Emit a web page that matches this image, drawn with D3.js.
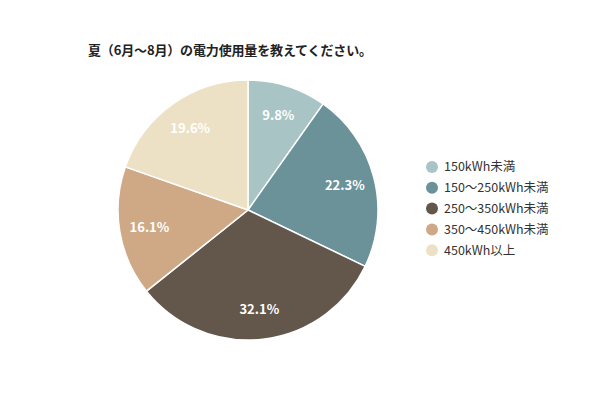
<!DOCTYPE html>
<html>
<head>
<meta charset="utf-8">
<script src="https://cdn.jsdelivr.net/npm/d3@7"></script>
<style>
  body { margin: 0; background: #fff; }
  svg { font-family: "Noto Sans CJK JP", "Noto Sans", sans-serif; }
</style>
</head>
<body>
<svg id="chart" width="600" height="400"></svg>
<script>
// 夏の電力使用量の回答割合
var categories = ["150kWh未満", "150～250kWh未満", "250～350kWh未満", "350～450kWh未満", "450kWh以上"];
var values = [9.8, 22.3, 32.1, 16.1, 19.6];
var colors = ["#a8c4c4", "#6b9299", "#63574c", "#cfa985", "#ede1c5"];
var title = "夏（6月～8月）の電力使用量を教えてください。";

var svg = d3.select("#chart");

svg.append("text")
    .attr("x", 88)
    .attr("y", 55)
    .attr("font-size", 13)
    .attr("font-weight", "bold")
    .attr("fill", "#222")
    .attr("textLength", 284)
    .text(title);

var radius = 130;
var g = svg.append("g").attr("transform", "translate(248,210)");

var pie = d3.pie().sort(null).value(function(d) { return d; });
var arc = d3.arc().innerRadius(0).outerRadius(radius);
var labelArc = d3.arc().innerRadius(100).outerRadius(100);
var color = d3.scaleOrdinal().domain(categories).range(colors);

var slices = pie(values);

g.selectAll("path")
    .data(slices)
    .enter()
    .append("path")
    .attr("d", arc)
    .attr("fill", function(d, i) { return color(categories[i]); })
    .attr("stroke", "#fff")
    .attr("stroke-width", 1.5);

g.selectAll("text.pct")
    .data(slices)
    .enter()
    .append("text")
    .attr("class", "pct")
    .attr("transform", function(d) { return "translate(" + labelArc.centroid(d) + ")"; })
    .attr("text-anchor", "middle")
    .attr("dy", "0.38em")
    .attr("font-size", 13)
    .attr("font-weight", "bold")
    .attr("fill", "#fff")
    .text(function(d) { return d.data.toFixed(1) + "%"; });

// 凡例
var legend = svg.append("g").attr("transform", "translate(432,167)");
var item = legend.selectAll("g")
    .data(categories)
    .enter()
    .append("g")
    .attr("transform", function(d, i) { return "translate(0," + (i * 20.8) + ")"; });

item.append("circle")
    .attr("r", 6)
    .attr("fill", function(d) { return color(d); });

item.append("text")
    .attr("x", 12)
    .attr("dy", "0.35em")
    .attr("font-size", 12.5)
    .attr("fill", "#333")
    .text(function(d) { return d; });
</script>
</body>
</html>
